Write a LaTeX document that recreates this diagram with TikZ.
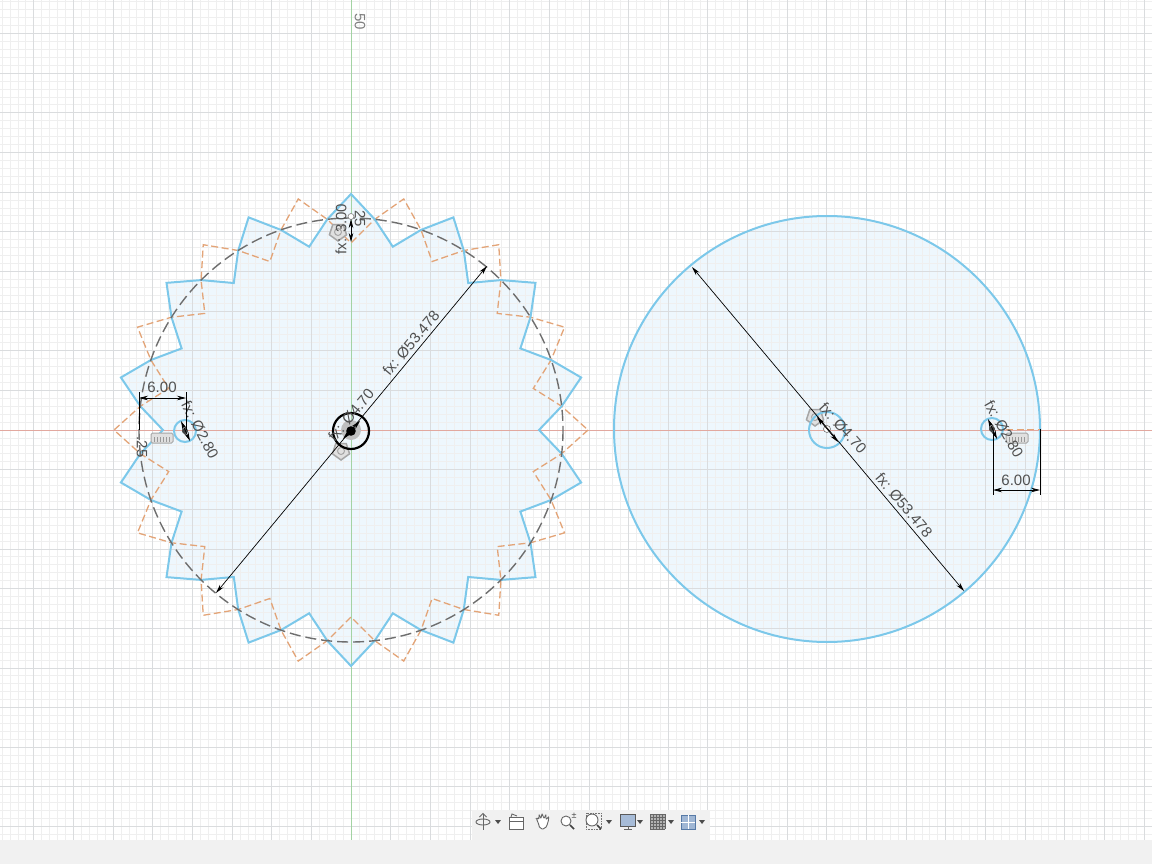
\documentclass[tikz,border=0pt]{standalone}
\usepackage{fontspec}
\setmainfont{Liberation Sans}
\usetikzlibrary{arrows.meta}

\definecolor{skblue}{HTML}{7CC8EA}
\definecolor{skfill}{HTML}{EEF7FD}
\definecolor{skorange}{HTML}{E3A477}
\definecolor{skgrey}{HTML}{6E6E6E}
\definecolor{sktext}{HTML}{505050}
\definecolor{gridminor}{HTML}{EFEFEF}
\definecolor{gridmajor}{HTML}{DADCDE}
\definecolor{axisred}{HTML}{E2A89F}
\definecolor{axisgreen}{HTML}{A3D3A3}
\definecolor{barfill}{HTML}{F1F1F1}
\definecolor{iconblue}{HTML}{5F86B8}

\tikzset{
  profile/.style={draw=skblue, line width=2pt},
  construct/.style={draw=skorange, line width=1.3pt, dash pattern=on 7pt off 3.5pt},
  pitch/.style={draw=skgrey, line width=1.4pt, dash pattern=on 11pt off 5pt},
  dimline/.style={black, line width=0.7pt, {Stealth[length=9pt,width=4.5pt]}-{Stealth[length=9pt,width=4.5pt]}},
  extline/.style={black, line width=1pt},
  dimtext/.style={text=sktext, font=\fontsize{15}{16}\selectfont, inner sep=0pt},
  glyph/.style={draw=black!35, line width=1.5pt, fill=black!12},
  tool/.style={draw=black!60, line width=0.9pt}
}

\newcommand{\conglyph}[1]{\draw[glyph, shift={(#1)}] plot[samples at={90,162,234,306,18}] (\x:9) -- cycle;
  \draw[draw=black!35, line width=1pt, shift={(#1)}] (0,0) circle (3.5);}
\newcommand{\combglyph}[1]{\draw[glyph, line width=1pt, rounded corners=1.5pt, shift={(#1)}] (-11,-5) rectangle (11,5);
  \foreach \t in {-8,-5,...,8} {\draw[draw=black!40, line width=0.8pt, shift={(#1)}] (\t,-1) -- (\t,4);}}

\begin{document}
\begin{tikzpicture}[x=1pt, y=-1pt]
  \useasboundingbox (0,0) rectangle (1152,864);
  \fill[white] (0,0) rectangle (1152,864);

  \coordinate (gearc) at (351,430);
  \coordinate (discc) at (827,429);
  \coordinate (holeL) at (185,431);
  \coordinate (holeR) at (992,429);

  % sketch faces
  \fill[skfill, shift={(gearc)}] plot[samples at={0,...,55}] ({90+\x*6.42857}:{212+24*cos(\x*90)}) -- cycle;
  \fill[skfill] (discc) circle (213);

  % grid
  \begin{scope}
    \clip (0,0) rectangle (1152,840);
    \foreach \k in {-45,...,101} {\draw[gridminor, line width=0.8pt] ({351+7.93*\k},0) -- ({351+7.93*\k},840);}
    \foreach \k in {-55,...,51} {\draw[gridminor, line width=0.8pt] (0,{430+7.93*\k}) -- (1152,{430+7.93*\k});}
    \foreach \k in {-45,-40,...,100} {\draw[gridmajor, line width=0.8pt] ({351+7.93*\k},0) -- ({351+7.93*\k},840);}
    \foreach \k in {-55,-50,...,50} {\draw[gridmajor, line width=0.8pt] (0,{430+7.93*\k}) -- (1152,{430+7.93*\k});}
  \end{scope}
  \draw[axisred, line width=1pt] (0,430) -- (1152,430);
  \draw[axisgreen, line width=1pt] (351,0) -- (351,840);
  \node[dimtext, text=black!50, rotate=-90] (axislabel) at (360,22) {50};

  % left gear
  \draw[construct, shift={(gearc)}] plot[samples at={0,...,55}] ({\x*6.42857}:{212+25*cos(\x*90)}) -- cycle;
  \draw[profile, line join=miter, shift={(gearc)}] plot[samples at={0,...,55}] ({90+\x*6.42857}:{212+24*cos(\x*90)}) -- cycle;
  \draw[pitch] (gearc) circle (212);

  \conglyph{338,232}
  \conglyph{341,451}
  \combglyph{162,438}
  \fill[black!25] (gearc) circle (10);
  \draw[black, line width=2.2pt] (351,431) circle (18);
  \fill[black] (351,431) circle (4.8);

  \coordinate (gdA) at (216,593);
  \coordinate (gdB) at (487,266);
  \draw[dimline] (gdA) -- (gdB);
  \node[dimtext, rotate=50] (gdlabel) at (411,343) {fx: Ø53.478};
  \coordinate (gbA) at (343,439);
  \coordinate (gbB) at (360,421);
  \draw[dimline] (gbA) -- (gbB);
  \node[dimtext, rotate=50] (gblabel) at (351,415) {fx: Ø4.70};

  \coordinate (topA) at (351,219);
  \coordinate (topB) at (351,242);
  \fill[white, draw=black!50, line width=0.6pt] (351,216.5) circle (3);
  \draw[dimline] (topA) -- (topB);
  \node[dimtext, rotate=90] (toplabel) at (341,229) {fx: 3.00};
  \node[dimtext, rotate=-90] (topsmall) at (360,219) {25};

  \draw[profile] (holeL) circle (11);
  \fill[black!75] (holeL) circle (3);
  \coordinate (hlA) at (181,421);
  \coordinate (hlB) at (190,441);
  \draw[dimline] (hlA) -- (hlB);
  \node[dimtext, rotate=-62] (hllabel) at (200,430) {fx: Ø2.80};
  \coordinate (slA) at (139,392);
  \coordinate (slB) at (186,392);
  \draw[extline] (slA) -- (139,430);
  \draw[extline] (slB) -- (186,430);
  \coordinate (sdA) at (139,398);
  \coordinate (sdB) at (186,398);
  \draw[dimline] (sdA) -- (sdB);
  \node[dimtext] (sdlabel) at (162,387) {6.00};
  \node[dimtext, rotate=-90] (slsmall) at (142,447) {.25};

  % right disc
  \draw[profile] (discc) circle (213);
  \conglyph{815,417}
  \draw[profile] (827,430) circle (18);
  \fill[white, draw=black!55, line width=0.6pt] (827,429) circle (3.5);
  \coordinate (ddA) at (692,267);
  \coordinate (ddB) at (964,591);
  \draw[dimline] (ddA) -- (ddB);
  \coordinate (dbA) at (817,417);
  \coordinate (dbB) at (838,442);
  \draw[dimline] (dbA) -- (dbB);
  \node[dimtext, rotate=-50] (ddlabel) at (904,505) {fx: Ø53.478};
  \node[dimtext, rotate=-48] (dblabel) at (843,428) {fx: Ø4.70};

  \draw[construct] (1006,429.5) -- (1040,429.5);
  \combglyph{1017,438}
  \draw[profile] (holeR) circle (11);
  \fill[black!75] (holeR) circle (3);
  \coordinate (hrA) at (988,419);
  \coordinate (hrB) at (997,439);
  \draw[dimline] (hrA) -- (hrB);
  \node[dimtext, rotate=-60] (hrlabel) at (1004,429) {fx: Ø2.80};
  \coordinate (srA) at (993,495);
  \coordinate (srB) at (1040,495);
  \draw[extline] (993,432) -- (srA);
  \draw[extline] (1040,429) -- (srB);
  \coordinate (sfA) at (993,490);
  \coordinate (sfB) at (1040,490);
  \draw[dimline] (sfA) -- (sfB);
  \node[dimtext] (sflabel) at (1016,480) {6.00};

  % toolbar
  \fill[barfill] (0,840) rectangle (1152,864);
  \fill[barfill] (472,810) rectangle (710,840);
  \foreach \dx in {498,609,640,671,702} {\fill[black!70] (\dx-3,820) -- (\dx+3,820) -- (\dx,824) -- cycle;}
  % orbit
  \draw[tool] (483,822) ellipse (7 and 3);
  \draw[tool] (483,814) -- (483,830);
  \draw[tool] (479.5,817) -- (483,813.5) -- (486.5,817);
  % look at
  \draw[tool, fill=white] (509,817) rectangle (523,829);
  \draw[tool] (509,821) -- (523,821);
  \draw[tool] (511,817) -- (512,814) -- (517,816);
  % pan
  \draw[tool, rounded corners=2pt, fill=white] (538,822) -- (536,818) -- (539,819) -- (539,814) -- (541,819) -- (542,813) -- (544,819) -- (546,814) -- (546,820) -- (549,816) -- (548,823) -- (545,829) -- (540,829) -- cycle;
  % zoom
  \draw[tool, fill=white] (566,821) circle (5);
  \draw[black!75, line width=1.5pt] (570,825) -- (574,829);
  \node[text=black!70, font=\fontsize{9}{9}\selectfont, inner sep=0pt] (zoomsign) at (574,816) {±};
  % fit
  \draw[black!55, line width=0.6pt, densely dotted] (586,813) rectangle (601,829);
  \draw[tool, fill=white] (592,820) circle (6);
  \draw[black!75, line width=1.5pt] (597,825) -- (601,829);
  % display
  \fill[iconblue!55, draw=black!65, line width=0.9pt] (620,814) rectangle (635,826);
  \draw[tool] (624,829) -- (632,829);
  \draw[tool] (628,826) -- (628,829);
  % grid
  \fill[black!30] (650,814) rectangle (665,829);
  \foreach \t in {0,3,...,15} {
    \draw[black!60, line width=0.6pt] ({650+\t},814) -- ({650+\t},829);
    \draw[black!60, line width=0.6pt] (650,{814+\t}) -- (665,{814+\t});
  }
  % viewports
  \fill[iconblue!60, draw=iconblue!90!black, line width=0.9pt] (681,815) rectangle (695,829);
  \draw[white, line width=1pt] (688,815) -- (688,829);
  \draw[white, line width=1pt] (681,822) -- (695,822);
\end{tikzpicture}
\end{document}
